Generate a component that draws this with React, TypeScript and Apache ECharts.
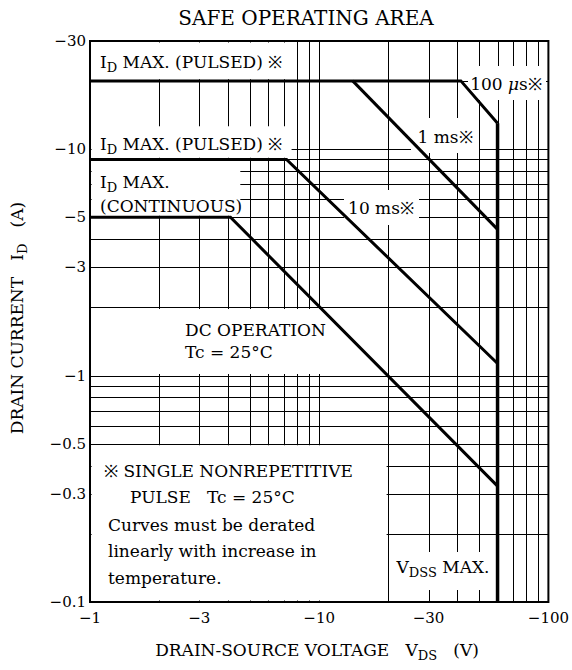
import React, { useEffect, useRef } from "react";
import * as echarts from "echarts";

// ---- data (magnitudes; the datasheet shows them as negative values) ----
const xTicks = [1, 3, 10, 30, 100];
const xTickLabels = ["−1", "−3", "−10", "−30", "−100"];
const yTicks = [0.1, 0.3, 0.5, 1, 3, 5, 10, 30];
const yTickLabels = ["−0.1", "−0.3", "−0.5", "−1", "−3", "−5", "−10", "−30"];

const gridX = [1, 2, 3, 4, 5, 6, 7, 8, 9, 10, 20, 30, 40, 50, 60, 70, 80, 90, 100];
const gridY = [0.1, 0.2, 0.3, 0.4, 0.5, 0.6, 0.7, 0.8, 0.9, 1, 2, 3, 4, 5, 6, 7, 8, 9, 10, 20, 30];

const pulse100us = [[1, 20], [41.5, 20], [60, 13]];
const pulse1ms = [[14, 20], [60, 4.42]];
const pulse10ms = [[1, 9], [7.2, 9], [60, 1.13]];
const dcOperation = [[1, 5], [4.1, 5], [60, 0.325]];
const vdssMax = [[60, 0.1], [60, 13]];

// blank (label) areas of the log paper: [x1, y1, x2, y2]
const blankAreas = [
  [1, 20, 7.7, 30],
  [1, 9, 7.7, 12.8],
  [1, 5, 4.6, 9],
  [1, 1, 20, 2],
  [1, 0.1, 20, 0.5],
];

const F = "'DejaVu Serif', 'Liberation Serif', serif";
const FS = 17;

function pickLabel(v: number, ticks: number[], labels: string[]) {
  let best = 0;
  let bd = Infinity;
  ticks.forEach((t, i) => {
    const d = Math.abs(Math.log(v) - Math.log(t));
    if (d < bd) {
      bd = d;
      best = i;
    }
  });
  return labels[best];
}

const rich = {
  s: { fontSize: 13, fontFamily: F, fill: "#000", padding: [11, 0, 0, 0] },
  it: { fontSize: FS, fontFamily: F, fontStyle: "italic", fill: "#000" },
};

function txt(text: string, x: number, y: number, align = "left", size = FS, extra: any = {}) {
  return {
    type: "text",
    x,
    y,
    z: 4,
    silent: true,
    ...extra,
    style: {
      text,
      fontSize: size,
      fontFamily: F,
      fill: "#000",
      align,
      verticalAlign: "middle",
      rich,
    },
  };
}

function box(x: number, y: number, w: number, h: number) {
  return { type: "rect", z: 3, silent: true, shape: { x, y, width: w, height: h }, style: { fill: "#fff" } };
}

const curveSeries = (name: string, data: number[][], width = 3) => ({
  name,
  type: "line",
  data,
  symbol: "none",
  z: 5,
  lineStyle: { color: "#000", width, cap: "butt", join: "miter" },
  animation: false,
  silent: true,
});

export default function App() {
  const ref = useRef<HTMLDivElement>(null);
  useEffect(() => {
    const chart = echarts.init(ref.current!, null, { renderer: "svg" });

    const gridData: number[][] = [];
    gridX.forEach((x) => gridData.push([x, 0.1, x, 30]));
    gridY.forEach((y) => gridData.push([1, y, 100, y]));

    const option: any = {
      animation: false,
      backgroundColor: "#fff",
      grid: {
        left: 90,
        top: 41,
        width: 459,
        height: 561,
        show: true,
        borderColor: "#000",
        borderWidth: 2,
        backgroundColor: "transparent",
      },
      xAxis: {
        type: "log",
        logBase: 10,
        min: 1,
        max: 100,
        axisLine: { show: false },
        axisTick: { show: false },
        splitLine: { show: false },
        minorSplitLine: { show: false },
        axisLabel: {
          customValues: xTicks,
          formatter: (v: number) => pickLabel(v, xTicks, xTickLabels),
          fontFamily: F,
          fontSize: 15,
          color: "#000",
          margin: 8,
        },
      },
      yAxis: {
        type: "log",
        logBase: 10,
        min: 0.1,
        max: 30,
        axisLine: { show: false },
        axisTick: { show: false },
        splitLine: { show: false },
        minorSplitLine: { show: false },
        axisLabel: {
          customValues: yTicks,
          formatter: (v: number) => pickLabel(v, yTicks, yTickLabels),
          fontFamily: F,
          fontSize: 15,
          color: "#000",
          margin: 4,
        },
      },
      series: [
        {
          name: "grid",
          type: "custom",
          z: 1,
          silent: true,
          data: gridData,
          encode: { x: [0, 2], y: [1, 3] },
          renderItem: (params: any, api: any) => {
            const p1 = api.coord([api.value(0), api.value(1)]);
            const p2 = api.coord([api.value(2), api.value(3)]);
            const r = (v: number) => Math.round(v) + 0.5;
            return {
              type: "line",
              shape: { x1: r(p1[0]), y1: r(p1[1]), x2: r(p2[0]), y2: r(p2[1]) },
              style: { stroke: "#000", lineWidth: 1 },
            };
          },
        },
        {
          name: "blank",
          type: "custom",
          z: 2,
          silent: true,
          data: blankAreas,
          encode: { x: [0, 2], y: [1, 3] },
          renderItem: (params: any, api: any) => {
            const p1 = api.coord([api.value(0), api.value(1)]);
            const p2 = api.coord([api.value(2), api.value(3)]);
            const x0 = Math.min(p1[0], p2[0]) + 1.6;
            const x1 = Math.max(p1[0], p2[0]) - 1.6;
            const y0 = Math.min(p1[1], p2[1]) + 1.6;
            const y1 = Math.max(p1[1], p2[1]) - 1.6;
            return {
              type: "rect",
              shape: { x: x0, y: y0, width: x1 - x0, height: y1 - y0 },
              style: { fill: "#fff" },
            };
          },
        },
        curveSeries("100 µs", pulse100us),
        curveSeries("1 ms", pulse1ms),
        curveSeries("10 ms", pulse10ms),
        curveSeries("DC", dcOperation),
        curveSeries("VDSS", vdssMax, 3.5),
      ],
      graphic: [
        txt("SAFE OPERATING AREA", 306, 18, "center", 20),
        txt("DRAIN-SOURCE VOLTAGE   V{s|DS}   (V)", 317, 650, "center", 17),
        txt("DRAIN CURRENT   I{s|D}   (A)", 17, 318, "center", 17, { rotation: Math.PI / 2 }),
        txt("I{s|D} MAX. (PULSED) ※", 100, 62),
        txt("I{s|D} MAX. (PULSED) ※", 100, 144),
        txt("I{s|D} MAX.", 100, 182),
        txt("(CONTINUOUS)", 100, 206),
        txt("DC OPERATION", 185, 330),
        txt("Tc = 25°C", 185, 352),
        txt("※ SINGLE NONREPETITIVE", 104, 471),
        txt("PULSE   Tc = 25°C", 130, 497),
        txt("Curves must be derated", 108, 525),
        txt("linearly with increase in", 108, 551),
        txt("temperature.", 108, 578),
        box(468, 66, 78, 34),
        txt("100 {it|μ}s※", 506, 84, "center"),
        box(411, 118, 68, 35),
        txt("1 ms※", 445, 137, "center"),
        box(344, 190, 75, 35),
        txt("10 ms※", 381, 208, "center"),
        box(391, 552, 104, 38),
        txt("V{s|DSS} MAX.", 443, 567, "center"),
      ],
    };
    chart.setOption(option);
    return () => chart.dispose();
  }, []);
  return (
    <div
      ref={ref}
      style={{ position: "absolute", left: 0, top: 0, width: 572, height: 670, background: "#fff" }}
    />
  );
}
